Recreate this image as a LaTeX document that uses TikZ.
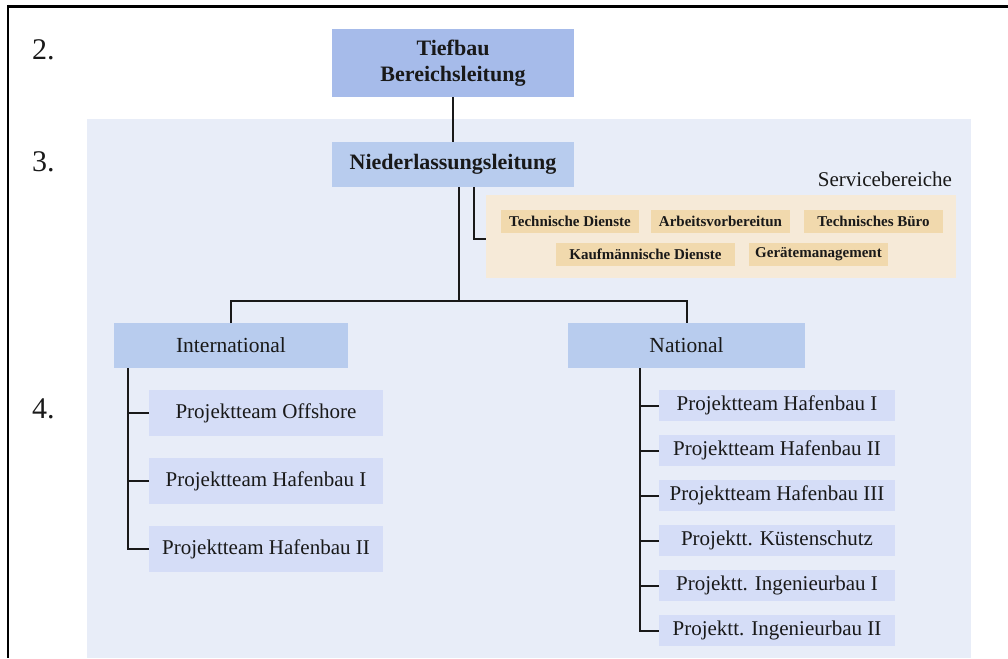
\documentclass[tikz,border=0pt]{standalone}
\usepackage{fontspec}
\setmainfont{Liberation Serif}
\usetikzlibrary{positioning}
\definecolor{areablue}{HTML}{E8EDF8}
\definecolor{topblue}{HTML}{A6BBEA}
\definecolor{leadblue}{HTML}{B8CCEE}
\definecolor{teamblue}{HTML}{D5DDF7}
\definecolor{svcsand}{HTML}{F6EAD8}
\definecolor{svcitem}{HTML}{F1D9AD}

\begin{document}
\begin{tikzpicture}[
    x=1pt, y=-1pt,
    node distance=14pt,
    box/.style={inner sep=0pt, outer sep=0pt, align=center, text=black!90},
    topbox/.style={box, fill=topblue, minimum width=242pt, minimum height=68pt,
                   font=\fontsize{22}{26}\selectfont\bfseries},
    leadbox/.style={box, fill=leadblue, minimum height=45pt,
                    font=\fontsize{21.5}{24}\selectfont},
    teambox/.style={box, fill=teamblue, minimum width=234pt, minimum height=46pt,
                    font=\fontsize{21}{24}\selectfont},
    natbox/.style={box, fill=teamblue, minimum width=236pt, minimum height=31pt,
                   font=\fontsize{21}{24}\selectfont},
    svcbox/.style={box, fill=svcitem, minimum width=139pt, minimum height=23pt,
                   font=\fontsize{15}{18}\selectfont\bfseries},
    level/.style={box, anchor=base west, font=\fontsize{30}{32}\selectfont},
    conn/.style={draw=black!90, line width=2pt}
  ]
    \useasboundingbox (0,0) rectangle (1008,658);
    % frame and area
    \draw[line width=3pt] (8,6.5) -- (1008,6.5);
    \draw[line width=1.5pt] (8,5) -- (8,658);
    \fill[areablue] (87,119) rectangle (971,658);

    % levels
    \node[level] (lv2) at (32,60) {2.};
    \node[level] (lv3) at (32,171) {3.};
    \node[level] (lv4) at (32,418) {4.};

    % head
    \node[topbox] (tiefbau) at (453,63) {Tiefbau\\Bereichsleitung};
    \node[leadbox, minimum width=242pt, font=\fontsize{22}{24}\selectfont\bfseries]
      (nl) at (453,164.5) {Niederlassungsleitung};

    % service
    \node[box, anchor=base east, font=\fontsize{21}{24}\selectfont]
      (svctitle) at (952,186) {Servicebereiche};
    \node[box, fill=svcsand, minimum width=470pt, minimum height=83pt]
      (svcarea) at (721,236.5) {};
    \node[svcbox, minimum width=138pt] (techd) at (570,221.5) {Technische Dienste};
    \node[svcbox, right=12pt of techd] (avb) {Arbeitsvorbereitun};
    \node[svcbox, right=14pt of avb] (tbuero) {Technisches Büro};
    \node[svcbox, minimum width=179pt] (kfm) at (645.5,254.5) {Kaufmännische Dienste};
    \node[svcbox, right=14pt of kfm] (geraet) {Gerätemanagement};

    % international
    \node[leadbox, minimum width=234pt] (intl) at (231,345.5) {International};
    \node[teambox] (int1) at (266,413) {Projektteam Offshore};
    \node[teambox, below=22pt of int1] (int2) {Projektteam Hafenbau I};
    \node[teambox, below=22pt of int2] (int3) {Projektteam Hafenbau II};

    % national
    \node[leadbox, minimum width=237pt] (natl) at (686.5,345.5) {National};
    \node[natbox] (nat1) at (777,405.5) {Projektteam Hafenbau I};
    \node[natbox, below=of nat1] (nat2) {Projektteam Hafenbau II};
    \node[natbox, below=of nat2] (nat3) {Projektteam Hafenbau III};
    \node[natbox, below=of nat3] (nat4) {Projektt. Küstenschutz};
    \node[natbox, below=of nat4] (nat5) {Projektt. Ingenieurbau I};
    \node[natbox, below=of nat5] (nat6) {Projektt. Ingenieurbau II};

    % connectors
    \coordinate (split) at (459,301);
    \draw[conn] (tiefbau.south) -- (nl.north);
    \draw[conn] (split |- nl.south) -- (split);
    \draw[conn] (intl.north) |- (split) -| (natl.north);
    \draw[conn] ([xshift=21pt]nl.south) |- ([yshift=-2.5pt]svcarea.west);
    \draw[conn] ([xshift=14pt]intl.south west) |- (int3.west);
    \foreach \t in {int1, int2}
      \draw[conn] (\t.west) -- ++(-21,0);
    \draw[conn] ([xshift=72pt]natl.south west) |- (nat6.west);
    \foreach \t in {nat1, nat2, nat3, nat4, nat5}
      \draw[conn] (\t.west) -- ++(-19,0);
  \end{tikzpicture}
\end{document}
